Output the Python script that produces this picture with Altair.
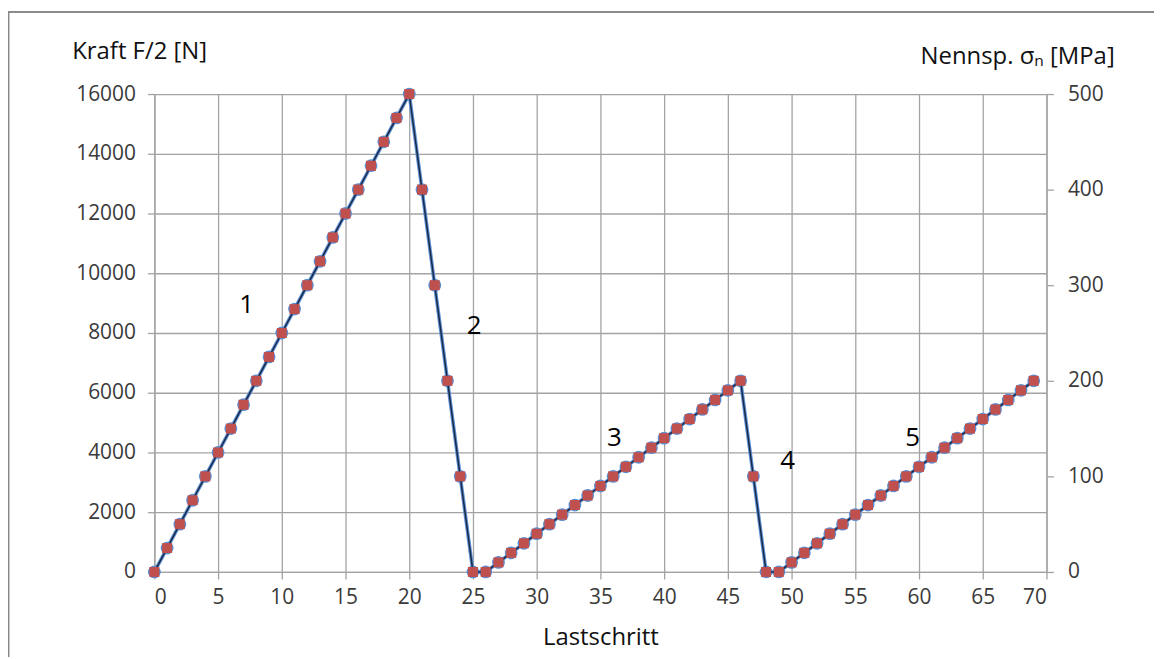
import altair as alt
import pandas as pd

steps = [0, 1, 2, 3, 4, 5, 6, 7, 8, 9, 10, 11, 12, 13, 14, 15, 16, 17, 18, 19,
         20, 21, 22, 23, 24, 25, 26, 27, 28, 29, 30, 31, 32, 33, 34, 35, 36, 37, 38, 39,
         40, 41, 42, 43, 44, 45, 46, 47, 48, 49, 50, 51, 52, 53, 54, 55, 56, 57, 58, 59,
         60, 61, 62, 63, 64, 65, 66, 67, 68, 69]

force = [0, 800, 1600, 2400, 3200, 4000, 4800, 5600, 6400, 7200, 8000, 8800, 9600,
         10400, 11200, 12000, 12800, 13600, 14400, 15200, 16000,
         12800, 9600, 6400, 3200, 0,
         0, 320, 640, 960, 1280, 1600, 1920, 2240, 2560, 2880, 3200, 3520, 3840, 4160,
         4480, 4800, 5120, 5440, 5760, 6080, 6400,
         3200, 0,
         0, 320, 640, 960, 1280, 1600, 1920, 2240, 2560, 2880, 3200, 3520, 3840, 4160,
         4480, 4800, 5120, 5440, 5760, 6080, 6400]

stress = [0, 25, 50, 75, 100, 125, 150, 175, 200, 225, 250, 275, 300,
          325, 350, 375, 400, 425, 450, 475, 500,
          400, 300, 200, 100, 0,
          0, 10, 20, 30, 40, 50, 60, 70, 80, 90, 100, 110, 120, 130,
          140, 150, 160, 170, 180, 190, 200,
          100, 0,
          0, 10, 20, 30, 40, 50, 60, 70, 80, 90, 100, 110, 120, 130,
          140, 150, 160, 170, 180, 190, 200]

x_ticks = [0, 5, 10, 15, 20, 25, 30, 35, 40, 45, 50, 55, 60, 65, 70]
f_ticks = [0, 2000, 4000, 6000, 8000, 10000, 12000, 14000, 16000]
s_ticks = [0, 100, 200, 300, 400, 500]

seg_labels = ["1", "2", "3", "4", "5"]
seg_x = [7.25, 25.1, 36.1, 49.7, 59.5]
seg_y = [8930, 8230, 4500, 3730, 4500]

df = pd.DataFrame({"Lastschritt": steps, "F": force, "S": stress})
ann = pd.DataFrame({"Lastschritt": seg_x, "F": seg_y, "t": seg_labels})
one = pd.DataFrame({"k": [0]})

FONT = "Open Sans"
GRID = "#a3a3a3"
BLUE = "#5b8fd4"
NAVY = "#1a2a48"
RED = "#c0504d"

x_enc = alt.X(
    "Lastschritt:Q",
    scale=alt.Scale(domain=[0, 70], nice=False, zero=False),
    axis=alt.Axis(values=x_ticks, title="Lastschritt", titleX=448, titleY=73,
                  titleAlign="center", titleBaseline="alphabetic", grid=True,
                  labelPadding=8, format="d"),
)
yF = alt.Y(
    "F:Q",
    scale=alt.Scale(domain=[0, 16000], nice=False),
    axis=alt.Axis(orient="left", values=f_ticks, title="Kraft F/2 [N]", titleAngle=0,
                  titleX=-83, titleY=-36, titleAlign="left", titleBaseline="alphabetic",
                  grid=True, labelPadding=12, format="d"),
)
yS = alt.Y(
    "S:Q",
    scale=alt.Scale(domain=[0, 500], nice=False),
    axis=alt.Axis(orient="right", values=s_ticks, title="Nennsp. σₙ [MPa]", titleAngle=0,
                  titleX=-127, titleY=-31, titleAlign="left", titleBaseline="alphabetic",
                  grid=False, labelPadding=14, format="d"),
)

base = alt.Chart(df)
lineF = base.mark_line(color=BLUE, strokeWidth=3.6).encode(x=x_enc, y=yF)
ptsF = base.mark_point(shape="circle", filled=True, color=BLUE, size=165, opacity=1).encode(x=x_enc, y=yF)
txt = alt.Chart(ann).mark_text(font=FONT, fontSize=26, color="#000000").encode(
    x=x_enc, y=yF, text="t:N")
frame_left = alt.Chart(one).mark_rule(color="#8a8a8a", strokeWidth=2).encode(
    x=alt.value(-146.5), y=alt.value(-82.5), y2=alt.value(600))
frame_top = alt.Chart(one).mark_rule(color="#8a8a8a", strokeWidth=2).encode(
    x=alt.value(-147), x2=alt.value(1010), y=alt.value(-82.5))

layerF = alt.layer(lineF, ptsF, txt, frame_left, frame_top)

lineS = base.mark_line(color=NAVY, strokeWidth=1.5).encode(x=x_enc, y=yS)
ptsS = base.mark_point(shape="square", filled=True, color=RED, size=100, opacity=1).encode(x=x_enc, y=yS)
layerS = alt.layer(lineS, ptsS)

chart = (
    alt.layer(layerF, layerS)
    .resolve_scale(y="independent")
    .properties(
        width=896,
        height=480,
        padding={"left": 147, "top": 85, "right": 108, "bottom": 84},
        autosize=alt.AutoSizeParams(type="none"),
        background="white",
    )
    .configure_view(stroke="transparent")
    .configure_axis(
        labelFont=FONT,
        labelFontSize=21,
        labelColor="#3a3a3a",
        titleFont=FONT,
        titleFontSize=24,
        titleFontWeight="normal",
        titleColor="#111111",
        gridColor=GRID,
        gridWidth=1.3,
        domainColor=GRID,
        domainWidth=1.3,
        tickColor=GRID,
        tickWidth=1.3,
        tickSize=7,
    )
)

chart.save("out.html", embed_options={"renderer": "svg", "actions": False})
